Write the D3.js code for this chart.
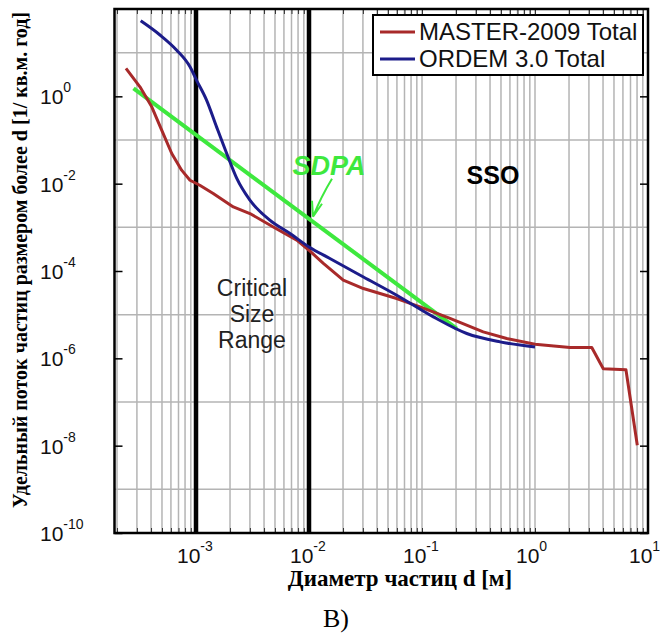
<!DOCTYPE html>
<html>
<head>
<meta charset="utf-8">
<script src="https://cdn.jsdelivr.net/npm/d3@7"></script>
<style>
  body { margin: 0; background: #fff; }
  svg { display: block; }
  .tick-lbl { font-family: "Liberation Sans", Arial, sans-serif; fill: #111; }
</style>
</head>
<body>
<div id="chart"></div>
<script>
// MASTER-2009 Total (d [m], flux)
var masterD = [2.4e-4, 3.19e-4, 4.06e-4, 4.97e-4, 6.1e-4, 7.46e-4, 8.85e-4, 1.08e-3, 1.42e-3, 2.14e-3,
    3.0e-3, 4.83e-3, 7.8e-3, 1.0e-2, 1.34e-2, 2.01e-2, 3.03e-2, 5.97e-2, 9.6e-2, 0.177,
    0.348, 0.562, 1.0, 2.04, 3.18, 4.02, 6.38, 8.04];
var masterV = [4.36, 1.65, 0.574, 0.168, 0.049, 0.0204, 0.012, 9.2e-3, 5.96e-3, 2.94e-3,
    2.07e-3, 1.02e-3, 5.08e-4, 2.99e-4, 1.49e-4, 6.15e-5, 3.97e-5, 2.34e-5, 1.51e-5, 8.2e-6,
    4.03e-6, 2.84e-6, 2.1e-6, 1.77e-6, 1.77e-6, 5.8e-7, 5.5e-7, 1.02e-8];

// ORDEM 3.0 Total
var ordemD = [3.24e-4, 4.8e-4, 6.75e-4, 8.85e-4, 1.01e-3, 1.24e-3, 1.52e-3, 1.87e-3, 2.29e-3, 3.0e-3,
    4.5e-3, 6.8e-3, 1.0e-2, 1.53e-2, 3.03e-2, 5.97e-2, 0.126, 0.249, 0.49, 1.0];
var ordemV = [53.7, 25.4, 11.4, 4.74, 2.35, 0.82, 0.2, 0.049, 0.0134, 4.2e-3,
    1.46e-3, 7.2e-4, 3.56e-4, 1.93e-4, 7.3e-5, 2.79e-5, 8.9e-6, 3.7e-6, 2.38e-6, 1.82e-6];

// SDPA
var sdpaD = [2.8e-4, 0.203];
var sdpaV = [1.52, 4.8e-6];

var criticalD = [1e-3, 1e-2];
var xTickExp = [-3, -2, -1, 0, 1];
var yTickExp = [0, -2, -4, -6, -8, -10];
var yGridExp = [1, -1, -3, -5, -7, -9];
var legendNames = ["MASTER-2009 Total", "ORDEM 3.0 Total"];
var legendColors = ["#a82a2a", "#1c1c8a"];

var W = 664, H = 633;
var pLeft = 114.5, pRight = 648, pTop = 9, pBottom = 533;

var svg = d3.select("#chart").append("svg")
    .attr("width", W).attr("height", H);

var xScale = d3.scaleLog().domain([1.9e-4, 10]).range([pLeft, pRight]);
var yScale = d3.scaleLog().domain([1e-10, 1e2]).range([pBottom, pTop]);

// minor positions
var minorX = [];
for (var e = -4; e <= 0; e++) {
    for (var k = 1; k <= 9; k++) {
        var v = k * Math.pow(10, e);
        if (v >= 1.9e-4 && v <= 10) minorX.push(v);
    }
}

var grid = svg.append("g").attr("class", "grid");
grid.selectAll("line.vg")
    .data(minorX.filter(function (d) { return criticalD.indexOf(d) < 0; }))
    .enter().append("line")
    .attr("x1", function (d) { return xScale(d); })
    .attr("x2", function (d) { return xScale(d); })
    .attr("y1", pTop).attr("y2", pBottom)
    .attr("stroke", "#b4b4b4").attr("stroke-width", 1.5);

grid.selectAll("line.hg")
    .data(yGridExp)
    .enter().append("line")
    .attr("x1", pLeft).attr("x2", pRight)
    .attr("y1", function (d) { return yScale(Math.pow(10, d)); })
    .attr("y2", function (d) { return yScale(Math.pow(10, d)); })
    .attr("stroke", "#b4b4b4").attr("stroke-width", 1.5);

// ticks on all four sides
svg.append("g")
    .attr("transform", "translate(0," + pBottom + ")")
    .call(d3.axisBottom(xScale).tickValues(minorX).tickSize(-5).tickFormat(""))
    .call(function (g) { g.select(".domain").remove(); g.selectAll("line").attr("stroke", "#333"); });
svg.append("g")
    .attr("transform", "translate(0," + pTop + ")")
    .call(d3.axisTop(xScale).tickValues(minorX).tickSize(-5).tickFormat(""))
    .call(function (g) { g.select(".domain").remove(); g.selectAll("line").attr("stroke", "#333"); });
var yTickVals = yTickExp.map(function (d) { return Math.pow(10, d); });
svg.append("g")
    .attr("transform", "translate(" + pLeft + ",0)")
    .call(d3.axisLeft(yScale).tickValues(yTickVals).tickSize(-8).tickFormat(""))
    .call(function (g) { g.select(".domain").remove(); g.selectAll("line").attr("stroke", "#000").attr("stroke-width", 1.5); });
svg.append("g")
    .attr("transform", "translate(" + pRight + ",0)")
    .call(d3.axisRight(yScale).tickValues(yTickVals).tickSize(-8).tickFormat(""))
    .call(function (g) { g.select(".domain").remove(); g.selectAll("line").attr("stroke", "#000").attr("stroke-width", 1.5); });

// critical size range borders
svg.selectAll("line.crit")
    .data(criticalD)
    .enter().append("line")
    .attr("x1", function (d) { return xScale(d); })
    .attr("x2", function (d) { return xScale(d); })
    .attr("y1", pTop).attr("y2", pBottom)
    .attr("stroke", "#000").attr("stroke-width", 4.5);

var line = d3.line()
    .x(function (d) { return xScale(d[0]); })
    .y(function (d) { return yScale(d[1]); });
var smoothLine = d3.line()
    .curve(d3.curveMonotoneX)
    .x(function (d) { return xScale(d[0]); })
    .y(function (d) { return yScale(d[1]); });

svg.append("path")
    .datum(d3.zip(sdpaD, sdpaV))
    .attr("d", line)
    .attr("fill", "none").attr("stroke", "#3ee83e").attr("stroke-width", 4);

svg.append("path")
    .datum(d3.zip(masterD, masterV))
    .attr("d", line)
    .attr("fill", "none").attr("stroke", legendColors[0]).attr("stroke-width", 3)
    .attr("stroke-linejoin", "round");

svg.append("path")
    .datum(d3.zip(ordemD, ordemV))
    .attr("d", smoothLine)
    .attr("fill", "none").attr("stroke", legendColors[1]).attr("stroke-width", 3)
    .attr("stroke-linejoin", "round");

// frame
svg.append("rect")
    .attr("x", pLeft).attr("y", pTop)
    .attr("width", pRight - pLeft).attr("height", pBottom - pTop)
    .attr("fill", "none").attr("stroke", "#000").attr("stroke-width", 2.5);

// tick labels
var xl = svg.selectAll("text.xl")
    .data(xTickExp)
    .enter().append("text")
    .attr("class", "tick-lbl")
    .attr("x", function (d) { return xScale(Math.pow(10, d)) - 19; })
    .attr("y", 563)
    .style("font-size", "21px");
xl.append("tspan").text("10");
xl.append("tspan").attr("dy", -12).style("font-size", "14px").text(function (d) { return d; });

var yl = svg.selectAll("text.yl")
    .data(yTickExp)
    .enter().append("text")
    .attr("class", "tick-lbl")
    .attr("x", 40)
    .attr("y", function (d) { return yScale(Math.pow(10, d)) + 8; })
    .style("font-size", "21px");
yl.append("tspan").text("10");
yl.append("tspan").attr("dy", -12).style("font-size", "14px").text(function (d) { return d; });

// axis titles
svg.append("text")
    .attr("x", 400).attr("y", 586)
    .attr("text-anchor", "middle")
    .style("font-family", "'Liberation Serif', 'Times New Roman', serif")
    .style("font-weight", "bold").style("font-size", "23px")
    .text("Диаметр частиц d [м]");

svg.append("text")
    .attr("transform", "translate(27,260) rotate(-90)")
    .attr("text-anchor", "middle")
    .style("font-family", "'Liberation Serif', 'Times New Roman', serif")
    .style("font-weight", "bold").style("font-size", "20px")
    .text("Удельный поток частиц размером более d [1/ кв.м. год]");

svg.append("text")
    .attr("x", 336).attr("y", 627)
    .attr("text-anchor", "middle")
    .style("font-family", "'Liberation Serif', 'Times New Roman', serif")
    .style("font-size", "26px")
    .text("В)");

// annotations
var sans = "'Liberation Sans', Arial, sans-serif";
var crit = svg.append("text")
    .attr("text-anchor", "middle")
    .style("font-family", sans).style("font-size", "23px").attr("fill", "#222");
["Critical", "Size", "Range"].forEach(function (s, i) {
    crit.append("tspan").attr("x", 252).attr("y", 296 + i * 26).text(s);
});

svg.append("text")
    .attr("x", 493).attr("y", 184)
    .attr("text-anchor", "middle")
    .style("font-family", sans).style("font-size", "25px").style("font-weight", "bold")
    .text("SSO");

svg.append("text")
    .attr("x", 329).attr("y", 175)
    .attr("text-anchor", "middle")
    .style("font-family", sans).style("font-size", "27px")
    .style("font-weight", "bold").style("font-style", "italic")
    .attr("fill", "#3ee83e")
    .text("SDPA");

// arrow to the SDPA line at 1e-2
var gAt = Math.exp(Math.log(sdpaV[0]) + (Math.log(1e-2) - Math.log(sdpaD[0])) /
    (Math.log(sdpaD[1]) - Math.log(sdpaD[0])) * (Math.log(sdpaV[1]) - Math.log(sdpaV[0])));
var tx = xScale(1e-2) + 4, ty = yScale(gAt) - 2;
svg.append("path")
    .attr("d", "M" + (tx + 19) + "," + (ty - 38) + " Q" + (tx + 8) + "," + (ty - 20) + " " + tx + "," + ty +
        " M" + tx + "," + ty + " L" + (tx - 1) + "," + (ty - 16) +
        " M" + tx + "," + ty + " L" + (tx + 9) + "," + (ty - 13))
    .attr("fill", "none").attr("stroke", "#3ee83e").attr("stroke-width", 2);

// legend
var lg = svg.append("g");
lg.append("rect")
    .attr("x", 373).attr("y", 15).attr("width", 270).attr("height", 60)
    .attr("fill", "#fff").attr("stroke", "#000").attr("stroke-width", 2);
legendNames.forEach(function (n, i) {
    var ly = 32 + i * 27;
    lg.append("line")
        .attr("x1", 380).attr("x2", 415).attr("y1", ly).attr("y2", ly)
        .attr("stroke", legendColors[i]).attr("stroke-width", 3);
    lg.append("text")
        .attr("x", 419).attr("y", ly + 8)
        .style("font-family", sans).style("font-size", "24px").attr("fill", "#111")
        .text(n);
});
</script>
</body>
</html>
